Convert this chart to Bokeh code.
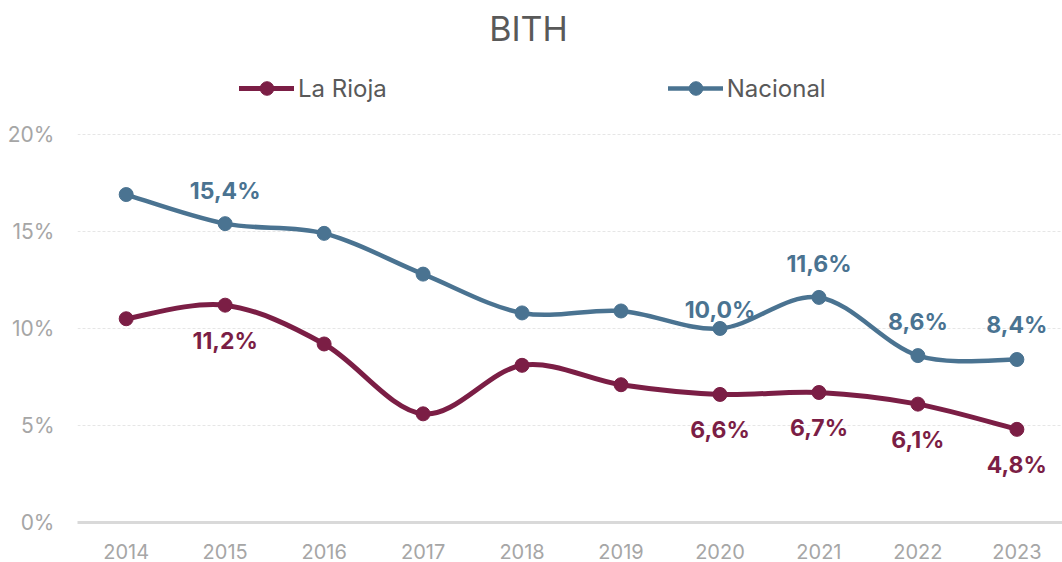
from bokeh.plotting import figure
from bokeh.models import (ColumnDataSource, Range1d, FixedTicker, PrintfTickFormatter,
                          Legend, LegendItem, Label)
from bokeh.core.properties import value
from bokeh.embed import file_html
from bokeh.resources import INLINE

# ---- data ----
years = [2014, 2015, 2016, 2017, 2018, 2019, 2020, 2021, 2022, 2023]
la_rioja = [10.5, 11.2, 9.2, 5.6, 8.1, 7.1, 6.6, 6.7, 6.1, 4.8]
nacional = [16.9, 15.4, 14.9, 12.8, 10.8, 10.9, 10.0, 11.6, 8.6, 8.4]
y_ticks = [0, 5, 10, 15, 20]
labeled_years = [2015, 2020, 2021, 2022, 2023]
title_text = "BITH"
series_names = ["La Rioja", "Nacional"]

# ---- style ----
C_RIOJA = "#7B1E45"
C_NAC = "#4A7391"
FONT = "Inter"

W, H = 1062, 562
# frame spans from the top of the canvas to the x axis; the upper part
# hosts title and legend (no gridlines above 20%)
p = figure(width=W, height=H, output_backend="svg", toolbar_location=None,
           x_range=Range1d(2013.508, 2023.461), y_range=Range1d(0, 26.9),
           min_border_left=77, min_border_right=0, min_border_top=0,
           min_border_bottom=40)
p.outline_line_color = None
p.background_fill_color = "white"
p.border_fill_color = "white"

# axes
p.xaxis.ticker = FixedTicker(ticks=years)
p.xaxis.formatter = PrintfTickFormatter(format="%d")
p.xaxis.axis_line_color = "#D9D9D9"
p.xaxis.axis_line_width = 3
p.xaxis.major_tick_line_color = None
p.xaxis.minor_tick_line_color = None
p.xaxis.major_label_text_font = FONT
p.xaxis.major_label_text_font_size = "20px"
p.xaxis.major_label_text_color = "#A6A6A6"
p.xaxis.major_label_standoff = 15

p.yaxis.ticker = FixedTicker(ticks=y_ticks)
p.yaxis.formatter = PrintfTickFormatter(format="%d%%")
p.yaxis.axis_line_color = None
p.yaxis.major_tick_line_color = None
p.yaxis.minor_tick_line_color = None
p.yaxis.major_tick_out = 0
p.yaxis.major_label_text_font = FONT
p.yaxis.major_label_text_font_size = "21px"
p.yaxis.major_label_text_color = "#A6A6A6"
p.yaxis.major_label_standoff = 23

p.xgrid.grid_line_color = None
p.ygrid.grid_line_color = "#E6E6E6"
p.ygrid.grid_line_width = 1
p.ygrid.grid_line_dash = "3 2"


def smooth_source(xs, ys):
    """Catmull-Rom style bezier segments (Excel-like smoothing)."""
    n = len(xs)
    d = dict(x0=[], y0=[], x1=[], y1=[], cx0=[], cy0=[], cx1=[], cy1=[])
    for i in range(n - 1):
        xp, yp = (xs[i - 1], ys[i - 1]) if i > 0 else (xs[i], ys[i])
        xn, yn = (xs[i + 2], ys[i + 2]) if i + 2 < n else (xs[i + 1], ys[i + 1])
        d["x0"].append(xs[i]); d["y0"].append(ys[i])
        d["x1"].append(xs[i + 1]); d["y1"].append(ys[i + 1])
        d["cx0"].append(xs[i] + (xs[i + 1] - xp) / 6)
        d["cy0"].append(ys[i] + (ys[i + 1] - yp) / 6)
        d["cx1"].append(xs[i + 1] - (xn - xs[i]) / 6)
        d["cy1"].append(ys[i + 1] - (yn - ys[i]) / 6)
    return ColumnDataSource(d)


def fmt(v):
    return f"{v:.1f}".replace(".", ",") + "%"


items = []
for name, vals, col, lw, sz in [(series_names[0], la_rioja, C_RIOJA, 5, 14),
                                (series_names[1], nacional, C_NAC, 4.5, 14)]:
    bz = p.bezier(x0="x0", y0="y0", x1="x1", y1="y1", cx0="cx0", cy0="cy0",
                  cx1="cx1", cy1="cy1", source=smooth_source(years, vals),
                  line_color=col, line_width=lw, line_cap="round")
    sc = p.scatter(years, vals, size=sz, fill_color=col, line_color=col,
                   marker="circle")
    items.append(LegendItem(label=name, renderers=[bz, sc]))

# data labels
lab_r = [la_rioja[years.index(y)] for y in labeled_years]
lab_n = [nacional[years.index(y)] for y in labeled_years]
nac_dy = [-33, -18, -33, -34, -34]
p.text(x=labeled_years, y=lab_r, text=[fmt(v) for v in lab_r], y_offset=36,
       text_align="center", text_baseline="middle", text_color=C_RIOJA,
       text_font=value(FONT), text_font_style="bold", text_font_size="23px")
p.text(x=labeled_years, y=lab_n, text=[fmt(v) for v in lab_n], y_offset=nac_dy,
       text_align="center", text_baseline="middle", text_color=C_NAC,
       text_font=value(FONT), text_font_style="bold", text_font_size="23px")

legend = Legend(items=items, orientation="horizontal", location=(162, 417),
                glyph_width=55, glyph_height=34, label_standoff=4, spacing=281,
                padding=0, margin=0, border_line_color=None,
                background_fill_alpha=0, label_text_font=FONT,
                label_text_font_size="24px", label_text_color="#595959",
                label_height=34)
p.add_layout(legend, "center")

title = Label(x=451, y=494, x_units="screen", y_units="screen", text=title_text,
              text_font=FONT, text_font_size="34px", text_color="#595959",
              text_align="center", text_baseline="middle")
p.add_layout(title)

open("out.html", "w").write(file_html(p, INLINE))
